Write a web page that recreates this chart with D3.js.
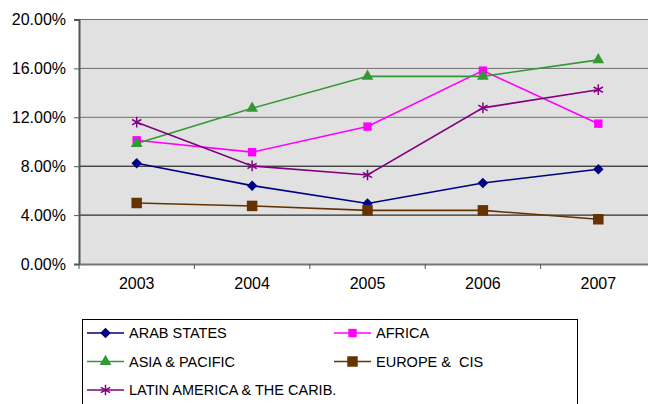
<!DOCTYPE html>
<html>
<head>
<meta charset="utf-8">
<script src="https://cdn.jsdelivr.net/npm/d3@7"></script>
<style>
  body { margin: 0; background: #fff; }
  svg { display: block; font-family: "Liberation Sans", Arial, sans-serif; }
</style>
</head>
<body>
<svg id="chart" width="648" height="404"></svg>
<script>
"use strict";

// data
var years = ['2003', '2004', '2005', '2006', '2007'];
var yTicks = [0, 0.04, 0.08, 0.12, 0.16, 0.20];
var arabStates = [0.0824, 0.0641, 0.0495, 0.0663, 0.0775];
var africa = [0.1012, 0.0915, 0.1124, 0.1582, 0.1148];
var asiaPacific = [0.0985, 0.1274, 0.1535, 0.1535, 0.1670];
var europeCis = [0.0499, 0.0475, 0.0439, 0.0439, 0.0366];
var latinAmerica = [0.1160, 0.0802, 0.0728, 0.1277, 0.1426];

var series = [
  { name: 'ARAB STATES', values: arabStates, color: '#000080', symbol: 'diamond', size: 55 },
  { name: 'AFRICA', values: africa, color: '#ff00ff', symbol: 'square', size: 70 },
  { name: 'ASIA & PACIFIC', values: asiaPacific, color: '#339933', symbol: 'triangle', size: 60 },
  { name: 'EUROPE &  CIS', values: europeCis, color: '#663300', symbol: 'square', size: 110 },
  { name: 'LATIN AMERICA & THE CARIB.', values: latinAmerica, color: '#800080', symbol: 'asterisk', size: 80 }
];

(function () {
  var svg = d3.select('#chart');
  var plotL = 79, plotR = 656, plotT = 19.5, plotB = 264;
  var font = '"Liberation Sans", Arial, sans-serif';

  var x = d3.scaleBand().domain(years).range([plotL, plotR]);
  var y = d3.scaleLinear().domain([0, 0.2]).range([plotB, plotT]);

  // plot area
  svg.append('rect')
    .attr('x', plotL).attr('y', plotT)
    .attr('width', plotR - plotL).attr('height', plotB - plotT)
    .attr('fill', '#e1e1e1');

  // gridlines
  svg.append('g').selectAll('line')
    .data(yTicks.slice(1))
    .enter().append('line')
    .attr('x1', plotL).attr('x2', plotR)
    .attr('y1', function (d) { return y(d); })
    .attr('y2', function (d) { return y(d); })
    .attr('stroke', function (d) { return d >= 0.12 ? '#6e6e6e' : '#000'; })
    .attr('stroke-width', 1);

  // y axis
  var yAxis = d3.axisLeft(y).tickValues(yTicks).tickSize(5)
    .tickFormat(function (d) { return (d * 100).toFixed(2) + '%'; });
  var gy = svg.append('g').attr('transform', 'translate(' + plotL + ',0)').call(yAxis);
  gy.attr('font-family', font);
  gy.select('.domain').attr('stroke', '#555').attr('stroke-width', 2);
  gy.selectAll('.tick line').attr('stroke', '#555');
  gy.selectAll('.tick text').attr('font-size', 16).attr('fill', '#000').attr('x', -13);

  // x axis
  var xAxis = d3.axisBottom(x).tickSize(0).tickPadding(14);
  var gx = svg.append('g').attr('transform', 'translate(0,' + plotB + ')').call(xAxis);
  gx.attr('font-family', font);
  gx.select('.domain').attr('stroke', '#777').attr('stroke-width', 2);
  gx.selectAll('.tick text').attr('font-size', 16).attr('fill', '#000');
  // category boundary ticks
  svg.append('g').selectAll('line')
    .data(years.concat(['end']))
    .enter().append('line')
    .attr('x1', function (d, i) { return plotL + i * x.bandwidth(); })
    .attr('x2', function (d, i) { return plotL + i * x.bandwidth(); })
    .attr('y1', plotB).attr('y2', plotB + 5)
    .attr('stroke', '#555');

  function symbolPath(type, size) {
    var t = type === 'triangle' ? d3.symbolTriangle :
      type === 'asterisk' ? d3.symbolAsterisk : d3.symbolSquare;
    return d3.symbol().type(t).size(size)();
  }

  function drawMarker(g, s, cx, cy) {
    var p = g.append('path')
      .attr('d', symbolPath(s.symbol, s.size))
      .attr('transform', 'translate(' + cx + ',' + cy + ')' + (s.symbol === 'diamond' ? ' rotate(45)' : ''));
    if (s.symbol === 'asterisk') {
      p.attr('fill', 'none').attr('stroke', s.color).attr('stroke-width', 1.5);
    } else {
      p.attr('fill', s.color);
    }
  }

  var line = d3.line()
    .x(function (d, i) { return x(years[i]) + x.bandwidth() / 2; })
    .y(function (d) { return y(d); });

  series.forEach(function (s) {
    var g = svg.append('g');
    g.append('path').attr('d', line(s.values))
      .attr('fill', 'none').attr('stroke', s.color).attr('stroke-width', 1.6);
    s.values.forEach(function (v, i) {
      drawMarker(g, s, x(years[i]) + x.bandwidth() / 2, y(v));
    });
  });

  // legend
  var legend = svg.append('g');
  legend.append('rect')
    .attr('x', 82.5).attr('y', 319.5).attr('width', 495).attr('height', 100)
    .attr('fill', '#fff').attr('stroke', '#000').attr('stroke-width', 1);

  series.forEach(function (s, i) {
    var col = i === 4 ? 0 : i % 2;
    var row = Math.floor(i / 2);
    var lx = col === 0 ? 87 : 334;
    var ly = 333 + row * 28.5;
    var g = legend.append('g');
    g.append('line').attr('x1', lx).attr('x2', lx + 37).attr('y1', ly).attr('y2', ly)
      .attr('stroke', s.color).attr('stroke-width', 1.6);
    drawMarker(g, s, lx + 18.5, ly);
    g.append('text').attr('x', lx + 42).attr('y', ly + 5)
      .attr('font-size', 14.5).attr('fill', '#000').attr('font-family', font)
      .style('white-space', 'pre').text(s.name);
  });
})();
</script>
</body>
</html>
